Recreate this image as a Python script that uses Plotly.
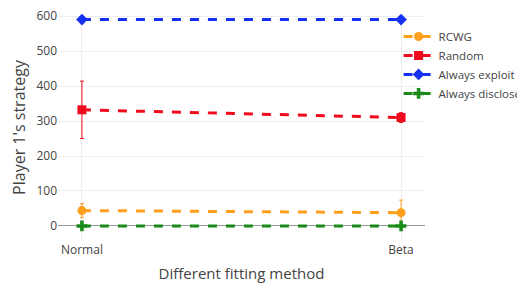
import plotly.graph_objects as go

methods = ["Normal", "Beta"]
series_names = ["RCWG", "Random", "Always exploit", "Always disclose"]
rcwg = [44, 38]
rcwg_err = [20, 36]
rcwg_errminus = [20, 36]
random_vals = [332, 310]
random_err = [82, 14]
exploit = [590, 590]
disclose = [0, 0]

colors = ["#ff9f1c", "#f00a1e", "#1430f0", "#1a8a1a"]
symbols = ["circle", "square", "diamond", "cross"]

fig = go.Figure()
data = [
    (rcwg, dict(type="data", array=rcwg_err, arrayminus=rcwg_errminus, visible=True, thickness=1, width=2)),
    (random_vals, dict(type="data", array=random_err, visible=True, thickness=1, width=2)),
    (exploit, None),
    (disclose, None),
]
for (vals, err), name, c, s in zip(data, series_names, colors, symbols):
    kw = {}
    if err:
        err["color"] = c
        kw["error_y"] = err
    fig.add_trace(go.Scatter(
        x=methods, y=vals, name=name, mode="lines+markers",
        line=dict(color=c, width=3, dash="dash"),
        marker=dict(color=c, symbol=s, size=9),
        **kw))

fig.update_layout(
    width=525, height=286,
    margin=dict(l=50, r=108, t=6, b=53, autoexpand=False),
    paper_bgcolor="white", plot_bgcolor="white",
    font=dict(family="Open Sans, sans-serif", color="#444", size=12),
    legend=dict(x=0.928, y=0.965, xanchor="left", yanchor="top",
                bgcolor="rgba(0,0,0,0)",
                font=dict(size=11.5), tracegroupgap=0, itemwidth=30),
    xaxis=dict(title=dict(text="Different fitting method", font=dict(size=15), standoff=11),
               range=[-0.075, 1.075], showgrid=True, gridcolor="#eee",
               zeroline=False, automargin=False),
    yaxis=dict(title=dict(text="Player 1's strategy", font=dict(size=16)),
               range=[-43, 606], tickvals=[0, 100, 200, 300, 400, 500, 600],
               ticklabeloverflow="allow",
               showgrid=True, gridcolor="#eee", automargin=False,
               zeroline=True, zerolinecolor="#999", zerolinewidth=1),
)
fig.write_html("out.html")
